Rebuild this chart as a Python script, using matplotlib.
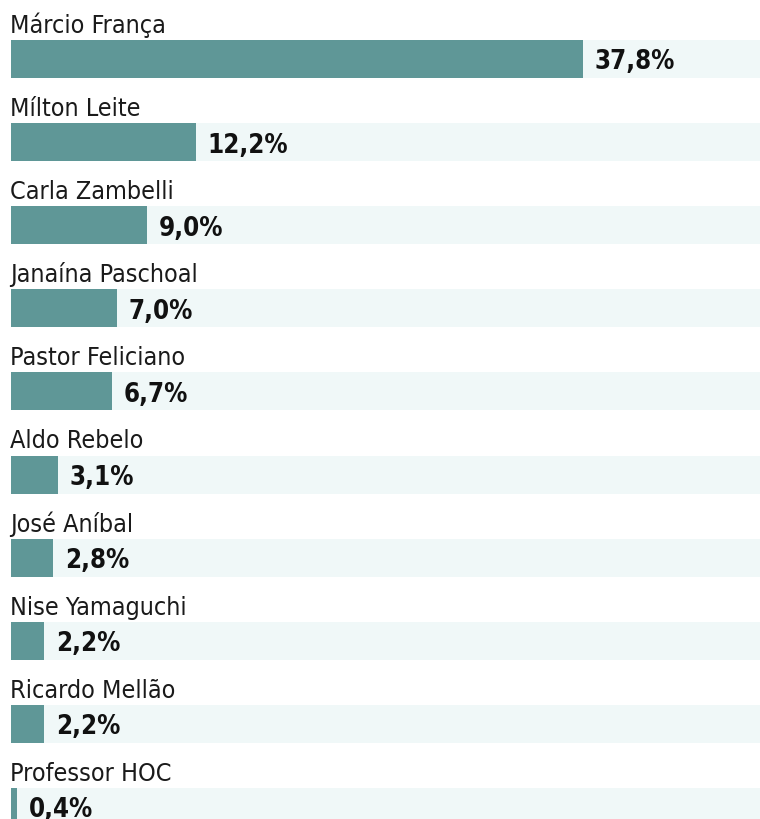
import matplotlib.pyplot as plt
from matplotlib import font_manager
from matplotlib.font_manager import FontProperties

# Datos
candidatos = ["Márcio França", "Mílton Leite", "Carla Zambelli", "Janaína Paschoal",
              "Pastor Feliciano", "Aldo Rebelo", "José Aníbal", "Nise Yamaguchi",
              "Ricardo Mellão", "Professor HOC"]
votos = [37.8, 12.2, 9.0, 7.0, 6.7, 3.1, 2.8, 2.2, 2.2, 0.4]


# Buscar una fuente condensada entre las instaladas
def buscar_fuente(negrita):
    mejores = []
    for f in font_manager.fontManager.ttflist:
        nombre = (f.name + " " + f.fname).lower()
        if "mono" in nombre or "serif" in nombre.replace("sans", ""):
            continue
        condensada = f.stretch in ("condensed", "semi-condensed", "extra-condensed") \
            or "condensed" in nombre or "narrow" in nombre
        if not condensada:
            continue
        peso = f.weight if isinstance(f.weight, int) else (700 if "bold" in str(f.weight) else 400)
        if f.style != "normal":
            continue
        objetivo = 700 if negrita else 400
        mejores.append((abs(peso - objetivo), f.fname))
    if mejores:
        mejores.sort()
        return FontProperties(fname=mejores[0][1])
    return FontProperties(family="DejaVu Sans", weight="bold" if negrita else "normal")


fuente_normal = buscar_fuente(False)
fuente_negrita = buscar_fuente(True)

fig = plt.figure(figsize=(7.6, 8.2), dpi=100)
ax = fig.add_axes([0, 0, 1, 1])

px = 572 / 37.8          # pixeles por punto porcentual
paso = 83.1              # pixeles por fila
x_max = (760 - 11) / px

n = len(candidatos)
filas = list(range(n))

# Fondo claro y barras
ax.barh(filas, [x_max] * n, height=38 / paso, left=0, color="#f0f8f8", zorder=1)
ax.barh(filas, votos, height=38 / paso, left=0, color="#5f9797", zorder=2)

for i, (nombre, v) in enumerate(zip(candidatos, votos)):
    ax.text(-0.07, i - 27 / paso, nombre, fontproperties=fuente_normal, fontsize=18,
            color="#1a1a1a", ha="left", va="baseline", zorder=3)
    ax.text(v + 0.75, i + 0.03, f"{v:.1f}%".replace(".", ","), fontproperties=fuente_negrita,
            fontsize=18.5, color="#111111", ha="left", va="center", zorder=3)

ax.set_xlim(-11 / px, x_max)
ax.set_ylim((820 - 60) / paso, -60 / paso)
ax.axis("off")

fig.savefig("out.png", dpi=100)
